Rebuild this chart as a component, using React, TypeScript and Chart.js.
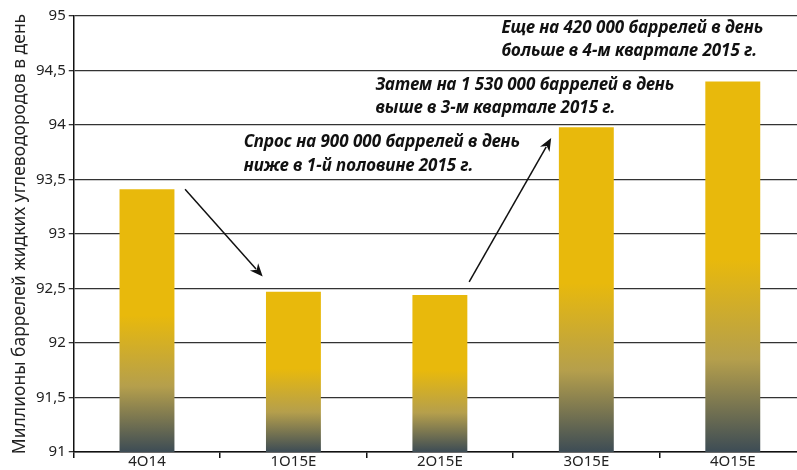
import React, { useEffect, useRef } from "react";
import { Chart, registerables } from "chart.js";

Chart.register(...registerables);

const categories = ["4O14", "1O15E", "2O15E", "3O15E", "4O15E"];
const demand = [93.41, 92.47, 92.44, 93.98, 94.4];
const yMin = 91;
const yMax = 95;
const yStep = 0.5;
const yTitle = "Миллионы баррелей жидких углеводородов в день";

// annotations anchored in data coordinates (category index, value)
const noteLines = [
  ["Еще на 420 000 баррелей в день", "больше в 4-м квартале 2015 г."],
  ["Затем на 1 530 000 баррелей в день", "выше в 3-м квартале 2015 г."],
  ["Спрос на 900 000 баррелей в день", "ниже в 1-й половине 2015 г."],
];
const noteX = [2.42, 1.56, 0.66];
const noteY = [94.89, 94.37, 93.84];
const arrowFrom = [
  [0.26, 93.41],
  [2.2, 92.56],
];
const arrowTo = [
  [0.79, 92.61],
  [2.76, 93.88],
];

const YELLOW = "#E8B90C";
const DARK = "#3D4C55";

const annotationPlugin = {
  id: "notes",
  afterDatasetsDraw(chart: any) {
    const ctx = chart.ctx;
    const xs = chart.scales.x;
    const ys = chart.scales.y;
    ctx.save();
    ctx.fillStyle = "#111";
    ctx.font = "italic bold 17px 'Noto Sans'";
    ctx.textBaseline = "middle";
    ctx.textAlign = "left";
    noteLines.forEach((lines, i) => {
      const x = xs.getPixelForValue(noteX[i]);
      const y = ys.getPixelForValue(noteY[i]);
      lines.forEach((t, j) => ctx.fillText(t, x, y + j * 23.5));
    });
    ctx.strokeStyle = "#111";
    ctx.lineWidth = 1.5;
    arrowFrom.forEach((f, i) => {
      const x1 = xs.getPixelForValue(f[0]);
      const y1 = ys.getPixelForValue(f[1]);
      const x2 = xs.getPixelForValue(arrowTo[i][0]);
      const y2 = ys.getPixelForValue(arrowTo[i][1]);
      const a = Math.atan2(y2 - y1, x2 - x1);
      const L = 13;
      const W = 5.5;
      const bx = x2 - L * Math.cos(a);
      const by = y2 - L * Math.sin(a);
      ctx.beginPath();
      ctx.moveTo(x1, y1);
      ctx.lineTo(bx + 3 * Math.cos(a), by + 3 * Math.sin(a));
      ctx.stroke();
      ctx.beginPath();
      ctx.moveTo(x2, y2);
      ctx.lineTo(bx - W * Math.sin(a), by + W * Math.cos(a));
      ctx.lineTo(x2 - (L - 4) * Math.cos(a), y2 - (L - 4) * Math.sin(a));
      ctx.lineTo(bx + W * Math.sin(a), by - W * Math.cos(a));
      ctx.closePath();
      ctx.fillStyle = "#111";
      ctx.fill();
    });
    ctx.restore();
  },
};

const CW = 806;
const CH = 470;

export default function App() {
  const ref = useRef<HTMLCanvasElement>(null);
  useEffect(() => {
    if (!ref.current) return;
    const chart = new Chart(ref.current, {
      type: "bar",
      data: {
        labels: categories,
        datasets: [
          {
            data: demand,
            backgroundColor: (c: any) => {
              const ch = c.chart;
              const ys = ch.scales && ch.scales.y;
              if (!ch.chartArea || !ys || c.raw === undefined) return YELLOW;
              const top = ys.getPixelForValue(c.raw as number);
              const bot = ys.getPixelForValue(yMin);
              if (!isFinite(top) || !isFinite(bot) || bot - top < 1) return YELLOW;
              const g = ch.ctx.createLinearGradient(0, top, 0, bot);
              g.addColorStop(0, YELLOW);
              g.addColorStop(0.48, YELLOW);
              g.addColorStop(0.75, "#B59F4C");
              g.addColorStop(1, DARK);
              return g;
            },
            borderWidth: 0,
            barPercentage: 0.375,
            categoryPercentage: 1,
          },
        ],
      },
      options: {
        responsive: false,
        animation: false,
        layout: { padding: { top: 16, right: 0, left: 10, bottom: 4 } },
        plugins: {
          legend: { display: false },
          tooltip: { enabled: false },
        },
        scales: {
          x: {
            offset: true,
            grid: {
              offset: true,
              drawOnChartArea: false,
              drawTicks: true,
              tickLength: 6,
              color: "#111",
              lineWidth: 1.5,
            },
            border: { display: true, color: "#111", width: 1.5 },
            ticks: {
              color: "#222",
              font: { family: "'Noto Sans'", size: 15 },
              padding: -5,
              maxRotation: 0,
            },
          },
          y: {
            min: yMin,
            max: yMax,
            border: { display: true, color: "#111", width: 1.5 },
            grid: {
              color: "#333",
              lineWidth: 1.3,
              tickLength: 5,
            },
            ticks: {
              stepSize: yStep,
              color: "#222",
              font: { family: "'Noto Sans'", size: 15 },
              padding: 3,
              callback: (v: any) => String(v).replace(".", ","),
            },
            title: {
              display: true,
              text: yTitle,
              color: "#222",
              font: { family: "'Noto Sans'", size: 17.5 },
              padding: { top: 0, bottom: 2 },
            },
          },
        },
      },
      plugins: [annotationPlugin],
    });
    return () => chart.destroy();
  }, []);
  return (
    <div style={{ position: "fixed", left: 0, top: 0, width: 797, height: 470, overflow: "hidden", background: "#fff" }}>
      <canvas ref={ref} width={CW} height={CH} style={{ width: CW, height: CH, display: "block" }} />
    </div>
  );
}
